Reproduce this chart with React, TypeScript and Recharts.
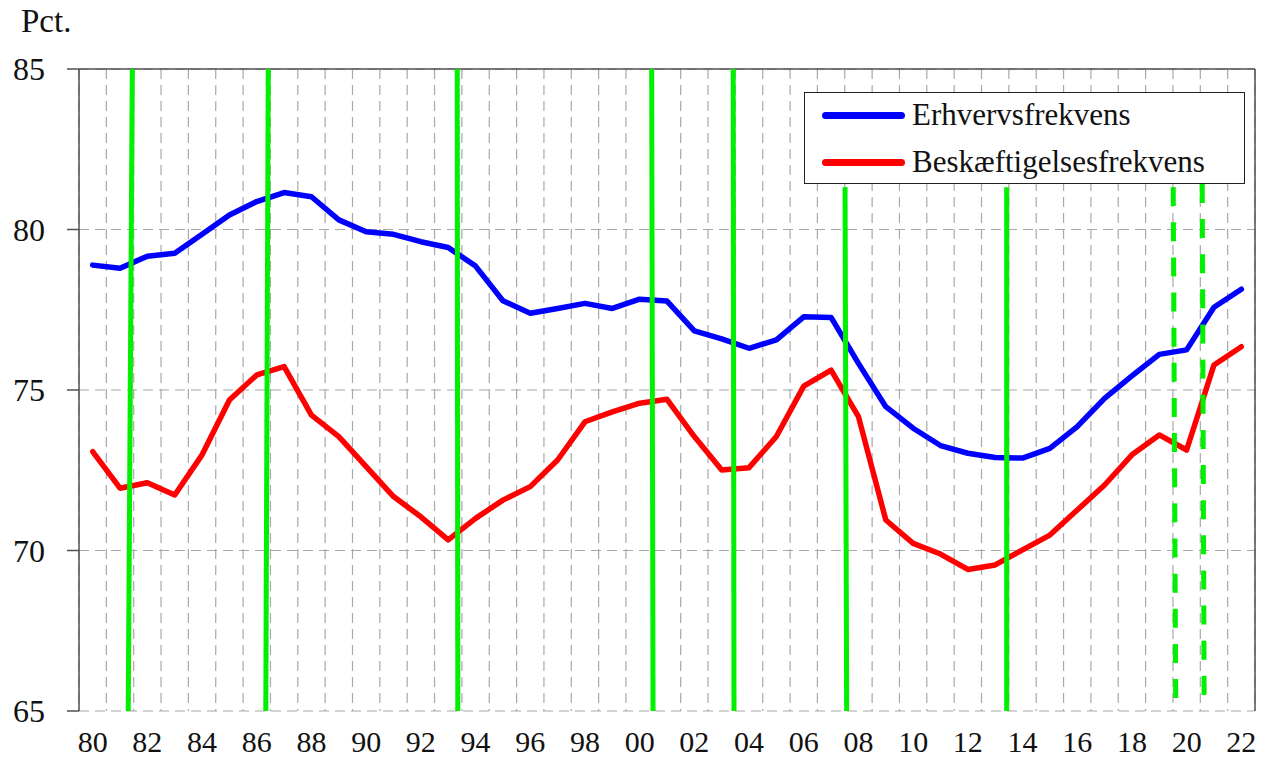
import React from "react";
import {
  LineChart,
  Line,
  XAxis,
  YAxis,
  CartesianGrid,
  ReferenceLine,
  Legend,
} from "recharts";

const years = [
  1980, 1981, 1982, 1983, 1984, 1985, 1986, 1987, 1988, 1989,
  1990, 1991, 1992, 1993, 1994, 1995, 1996, 1997, 1998, 1999,
  2000, 2001, 2002, 2003, 2004, 2005, 2006, 2007, 2008, 2009,
  2010, 2011, 2012, 2013, 2014, 2015, 2016, 2017, 2018, 2019,
  2020, 2021, 2022,
];

const erhvervsfrekvens = [
  78.89, 78.79, 79.17, 79.26, 79.85, 80.45, 80.87, 81.15, 81.02, 80.3,
  79.93, 79.85, 79.62, 79.44, 78.86, 77.78, 77.39, 77.54, 77.7, 77.54,
  77.83, 77.77, 76.84, 76.59, 76.3, 76.56, 77.28, 77.26, 75.83, 74.48,
  73.81, 73.27, 73.03, 72.9, 72.88, 73.18, 73.86, 74.74, 75.44, 76.11,
  76.25, 77.58, 78.14,
];

const beskaeftigelsesfrekvens = [
  73.08, 71.94, 72.11, 71.73, 72.98, 74.69, 75.47, 75.73, 74.22, 73.55,
  72.61, 71.68, 71.05, 70.33, 71.0, 71.57, 71.99, 72.82, 74.01, 74.32,
  74.59, 74.71, 73.55, 72.51, 72.58, 73.55, 75.12, 75.62, 74.17, 70.95,
  70.22, 69.89, 69.41, 69.55, 70.02, 70.48, 71.26, 72.04, 72.98, 73.6,
  73.13, 75.78, 76.35,
];

const seriesNames = ["Erhvervsfrekvens", "Beskæftigelsesfrekvens"];
const seriesColors = ["#0000ff", "#ff0000"];

const yTicks = [65, 70, 75, 80, 85];
const labelYears = [
  1980, 1982, 1984, 1986, 1988, 1990, 1992, 1994, 1996, 1998, 2000,
  2002, 2004, 2006, 2008, 2010, 2012, 2014, 2016, 2018, 2020, 2022,
];

// Business-cycle marker dates (fractional years): top and bottom ends
const cycleTop = [1981.45, 1986.42, 1993.33, 2000.44, 2003.42, 2007.51, 2013.42, 2019.51, 2020.57];
const cycleBottom = [1981.3, 1986.33, 1993.35, 2000.49, 2003.45, 2007.57, 2013.42, 2019.6, 2020.64];
const cycleTopValue = [85, 85, 85, 85, 85, 81.32, 81.32, 81.32, 81.42];
const cycleBottomValue = [65, 65, 65, 65, 65, 65, 65, 65.405, 65.47];
const cycleDashed = [false, false, false, false, false, false, false, true, true];

const data = years.map((y, i) => ({
  year: y,
  erh: erhvervsfrekvens[i],
  besk: beskaeftigelsesfrekvens[i],
}));

const boundaryTicks = [...years.map((y) => y - 0.5), years[years.length - 1] + 0.5];
const xDomain = [years[0] - 0.5, years[years.length - 1] + 0.5];

const FONT = '"Liberation Serif", "Times New Roman", Times, serif';
const AXIS = "#505050";
const GREEN = "#00f000";

const NoTick = () => <g />;

const XLabelTick = (props: any) => {
  const { x, y, payload } = props;
  const label = String(payload.value % 100).padStart(2, "0");
  return (
    <text
      x={x}
      y={y}
      dy={21}
      textAnchor="middle"
      fontFamily={FONT}
      fontSize={30}
      fill="#111"
    >
      {label}
    </text>
  );
};

const YLabelTick = (props: any) => {
  const { x, y, payload } = props;
  return (
    <text
      x={x}
      y={y}
      dy={11}
      textAnchor="end"
      fontFamily={FONT}
      fontSize={32}
      fill="#111"
    >
      {payload.value}
    </text>
  );
};

const LegendContent = (props: any) => {
  const payload = [...(props.payload || [])].sort(
    (a: any, b: any) => seriesNames.indexOf(a.value) - seriesNames.indexOf(b.value)
  );
  return (
    <div
      style={{
        position: "relative",
        width: 441,
        height: 92,
        boxSizing: "border-box",
        border: "1.5px solid #222",
        background: "#fff",
        fontFamily: FONT,
      }}
    >
      {payload.map((p: any, i: number) => (
        <div
          key={i}
          style={{
            position: "absolute",
            left: 17,
            top: i * 47 - 1,
            height: 46,
            display: "flex",
            alignItems: "center",
            whiteSpace: "nowrap",
          }}
        >
          <div
            style={{
              width: 83,
              height: 7,
              borderRadius: 4,
              background: p.color,
              marginRight: 7,
            }}
          />
          <span style={{ fontSize: 31, color: "#111" }}>{p.value}</span>
        </div>
      ))}
    </div>
  );
};

export default function App() {
  return (
    <div style={{ position: "absolute", left: 0, top: 0, width: 1264, height: 758, background: "#fff" }}>
      <div
        style={{
          position: "absolute",
          left: 21,
          top: 3,
          fontFamily: FONT,
          fontSize: 33,
          color: "#111",
          lineHeight: "36px",
        }}
      >
        Pct.
      </div>
      <LineChart
        width={1264}
        height={758}
        data={data}
        margin={{ top: 69, right: 9, left: 0, bottom: 0 }}
        style={{ fontFamily: FONT }}
      >
        <CartesianGrid
          xAxisId="grid"
          stroke="#a8a8a8"
          strokeWidth={1.2}
          strokeDasharray="10 6"
        />
        <XAxis
          xAxisId="grid"
          dataKey="year"
          type="number"
          domain={xDomain}
          ticks={boundaryTicks}
          allowDataOverflow
          height={0}
          tick={NoTick}
          tickSize={11}
          tickLine={{ stroke: AXIS, strokeWidth: 1.5 }}
          axisLine={{ stroke: AXIS, strokeWidth: 1.5 }}
          interval={0}
        />
        <XAxis
          xAxisId="labels"
          dataKey="year"
          type="number"
          domain={xDomain}
          ticks={labelYears}
          allowDataOverflow
          height={47}
          axisLine={false}
          tickLine={false}
          tickSize={0}
          tickMargin={20}
          interval={0}
          tick={XLabelTick}
        />
        <YAxis
          type="number"
          domain={[65, 85]}
          ticks={yTicks}
          width={79}
          allowDataOverflow
          tickSize={12}
          tickMargin={22}
          interval={0}
          tickLine={{ stroke: AXIS, strokeWidth: 1.5 }}
          axisLine={{ stroke: AXIS, strokeWidth: 1.5 }}
          tick={YLabelTick}
        />
        <ReferenceLine xAxisId="grid" y={85} stroke={AXIS} strokeWidth={1.5} />
        <ReferenceLine xAxisId="grid" x={xDomain[1]} stroke={AXIS} strokeWidth={1.5} />
        <Line
          xAxisId="grid"
          type="linear"
          dataKey="erh"
          name={seriesNames[0]}
          stroke={seriesColors[0]}
          strokeWidth={5.5}
          strokeLinejoin="round"
          strokeLinecap="round"
          dot={false}
          activeDot={false}
          isAnimationActive={false}
        />
        <Line
          xAxisId="grid"
          type="linear"
          dataKey="besk"
          name={seriesNames[1]}
          stroke={seriesColors[1]}
          strokeWidth={5.5}
          strokeLinejoin="round"
          strokeLinecap="round"
          dot={false}
          activeDot={false}
          isAnimationActive={false}
        />
        {cycleTop.map((t, i) => (
          <ReferenceLine
            key={"c" + i}
            xAxisId="grid"
            ifOverflow="visible"
            segment={[
              { x: t, y: cycleTopValue[i] },
              { x: cycleBottom[i], y: cycleBottomValue[i] },
            ]}
            stroke={GREEN}
            strokeWidth={5}
            strokeDasharray={cycleDashed[i] ? "19 16.14" : undefined}
          />
        ))}
        <Legend
          layout="vertical"
          align="center"
          verticalAlign="middle"
          content={LegendContent}
          wrapperStyle={{ position: "absolute", left: 804, top: 92, width: 441, height: 92 }}
        />
      </LineChart>
    </div>
  );
}
